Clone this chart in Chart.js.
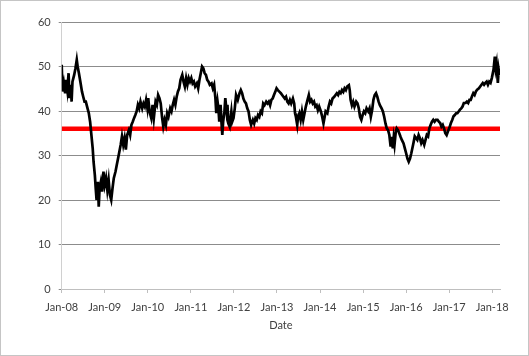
<!DOCTYPE html>
<html>
<head>
<meta charset="utf-8">
<script src="https://cdn.jsdelivr.net/npm/chart.js@4"></script>
<style>
html,body{margin:0;padding:0;background:#fff;}
#wrap{width:529px;height:356px;position:relative;}
</style>
</head>
<body>
<div id="wrap"><canvas id="c" width="529" height="356"></canvas></div>
<script>
// Dates as decimal years (2008.0 = Jan-08)
const dates2008_09 = [2008.00,2008.02,2008.05,2008.08,2008.10,2008.13,2008.16,2008.18,2008.21,2008.23,2008.25,2008.29,2008.32,2008.35,2008.37,2008.40,2008.44,2008.47,2008.50,2008.53,2008.56,2008.60,2008.63,2008.66,2008.69,2008.72,2008.74,2008.77,2008.79,2008.81,2008.84,2008.86,2008.88,2008.91,2008.94,2008.97,2009.00,2009.03,2009.06,2009.09,2009.12,2009.15,2009.18,2009.21,2009.25,2009.28,2009.31,2009.34,2009.37,2009.40,2009.43,2009.46,2009.49,2009.52,2009.56,2009.59,2009.62,2009.65,2009.68,2009.71,2009.74,2009.77,2009.80,2009.83,2009.87,2009.90,2009.93,2009.96,2009.99];
const values2008_09 = [50.4,44.4,46.2,44,47,44.7,48.5,42.9,45.9,42.1,46.6,48.1,49.6,51.5,50,48.5,46.2,44.4,43.2,42.1,42.1,40.6,39.5,37.6,34.6,31.6,28.6,25.6,22.6,20,24.1,18.5,22.6,24.1,21.9,26.4,23.4,24.9,22.2,24.5,21.1,20,22.6,24.9,26.4,27.9,29.4,30.9,32.4,34.3,32.4,33.9,31.3,34.6,35.7,34.6,36.9,37.6,38.4,39.1,39.9,41.4,40.6,42.1,40.6,41.7,41,42.5,40.6];

const dates2010_11 = [2010.01,2010.04,2010.08,2010.11,2010.14,2010.18,2010.21,2010.24,2010.27,2010.30,2010.33,2010.36,2010.39,2010.42,2010.45,2010.48,2010.52,2010.55,2010.58,2010.61,2010.64,2010.67,2010.70,2010.73,2010.76,2010.80,2010.83,2010.86,2010.89,2010.92,2010.95,2010.98,2011.01,2011.04,2011.07,2011.10,2011.14,2011.17,2011.20,2011.23,2011.26,2011.29,2011.32,2011.35,2011.38,2011.41,2011.44,2011.48,2011.51,2011.54,2011.57,2011.59,2011.62,2011.64,2011.66,2011.69,2011.71,2011.73,2011.75,2011.78,2011.80,2011.83,2011.85,2011.87,2011.90,2011.92,2011.94,2011.96,2011.99,2012.02];
const values2010_11 = [42.9,39.9,38.4,41.4,38.4,42.1,41.4,43.6,42.9,41.7,38.7,36.5,38,36.9,39.5,38.7,40.6,39.9,41.4,42.5,41.4,43.2,44.4,45.1,47,48.1,46.6,45.5,47.4,45.9,47.4,46.6,47.4,46.2,46.6,45.5,46.2,45.1,47,48.5,50,49.6,48.5,48.1,47,46.6,45.9,46.2,45.1,45.9,42.9,39.5,42.1,40.6,37.6,41.4,37.6,34.6,37.6,39.9,42.9,39.9,41.4,37.2,36.5,38.4,39.9,37.6,38.4,40.6];

const dates2012_13 = [2012.05,2012.09,2012.13,2012.16,2012.19,2012.22,2012.25,2012.28,2012.31,2012.34,2012.37,2012.40,2012.44,2012.47,2012.50,2012.53,2012.56,2012.59,2012.62,2012.65,2012.68,2012.71,2012.75,2012.78,2012.81,2012.84,2012.87,2012.90,2012.93,2012.96,2012.99,2013.02,2013.06,2013.09,2013.12,2013.15,2013.18,2013.21,2013.24,2013.27,2013.30,2013.33,2013.37,2013.40,2013.42,2013.44,2013.47,2013.49,2013.52,2013.55,2013.58,2013.61,2013.64,2013.67,2013.71,2013.74,2013.77,2013.80,2013.83,2013.86,2013.89,2013.92,2013.95,2013.98,2014.02,2014.05,2014.08];
const values2012_13 = [43.6,42.5,44,44.7,44,42.8,42.1,41.7,40.6,39.9,38,36.9,38,37.2,38.4,38,39.1,38.7,39.9,39.5,41.7,41.3,42.1,41.7,42.1,41.3,42.5,42.8,43.6,44.3,45.1,44.7,44.3,44,43.6,43.2,42.8,43.2,42.1,41.7,42.5,41.7,42.8,41.7,39.5,38.7,36.9,38.7,39.5,38,39.9,38,39.5,41,42.5,43.6,42.1,42.5,41.7,42.1,41,41.3,40.2,41,39.9,38.7,37.2];

const dates2014_15 = [2014.13,2014.17,2014.20,2014.23,2014.26,2014.29,2014.33,2014.36,2014.39,2014.42,2014.45,2014.48,2014.51,2014.54,2014.57,2014.60,2014.63,2014.67,2014.69,2014.71,2014.74,2014.77,2014.80,2014.84,2014.87,2014.90,2014.93,2014.96,2014.99,2015.02,2015.05,2015.08,2015.12,2015.15,2015.18,2015.21,2015.24,2015.27,2015.30,2015.33,2015.36,2015.39,2015.43,2015.46,2015.49,2015.52,2015.55,2015.58,2015.61,2015.64,2015.66,2015.69,2015.71,2015.73,2015.76,2015.78,2015.81,2015.84,2015.87,2015.90,2015.94,2015.97,2016.00,2016.03,2016.06,2016.09,2016.12];
const values2014_15 = [39.9,39.5,41,42.1,41.7,42.8,43.2,43.6,44,43.6,44.3,44,44.7,44.3,45.1,44.7,45.5,45.8,44.7,42.5,41.3,42.1,41,42.1,41.7,40.6,38.7,38,39.1,39.9,39.5,40.6,39.9,40.6,38.7,40.2,42.5,43.6,44,43.2,42.1,41.3,40.6,39.9,38.7,37.2,36.1,35.7,34.6,32,34.2,31.6,33.9,32.4,35.4,36.1,35.7,35,34.2,33.5,32.7,31.6,30.5,29.3,28.6,29.3,30.5];

const dates2016_18 = [2016.17,2016.20,2016.23,2016.26,2016.29,2016.32,2016.35,2016.38,2016.42,2016.45,2016.48,2016.51,2016.54,2016.57,2016.60,2016.63,2016.66,2016.69,2016.73,2016.76,2016.79,2016.82,2016.85,2016.88,2016.91,2016.94,2016.97,2017.00,2017.04,2017.07,2017.10,2017.13,2017.16,2017.19,2017.22,2017.25,2017.28,2017.31,2017.34,2017.38,2017.41,2017.44,2017.47,2017.50,2017.53,2017.56,2017.59,2017.62,2017.65,2017.69,2017.72,2017.75,2017.78,2017.81,2017.84,2017.87,2017.90,2017.93,2017.96,2017.99,2018.03,2018.06,2018.08,2018.10,2018.13,2018.15,2018.17];
const values2016_18 = [32.8,34.3,33.9,33.5,34.6,33.9,32.8,33.5,32.4,33.5,34.6,34.3,36.1,36.9,37.6,38,37.6,38,38,37.6,37.3,36.5,36.9,36.1,35,34.6,35.4,36.1,37.3,38,38.8,39.1,39.5,39.5,39.9,40.3,40.6,41,41.8,41.8,42.1,41.8,42.5,42.5,43.3,44,43.6,44.4,44.8,45.1,45.5,45.9,46.3,45.9,46.3,46.6,45.9,46.6,46.3,47.4,49.3,52.2,49.6,50.7,46.3,49.3,48.1];

const referenceLevel = 36;
const tickYears = [2008,2009,2010,2011,2012,2013,2014,2015,2016,2017,2018];
const tickLabels = ['Jan-08','Jan-09','Jan-10','Jan-11','Jan-12','Jan-13','Jan-14','Jan-15','Jan-16','Jan-17','Jan-18'];
const yTicks = [0,10,20,30,40,50,60];
const xMin = 2008.0, xMax = 2018.18;

const allDates = [].concat(dates2008_09, dates2010_11, dates2012_13, dates2014_15, dates2016_18);
const allValues = [].concat(values2008_09, values2010_11, values2012_13, values2014_15, values2016_18);
const mainData = allDates.map((x,i)=>({x:x, y:allValues[i]}));
const refData = [{x:xMin,y:referenceLevel},{x:xMax,y:referenceLevel}];

const borderPlugin = {
  id:'outerBorder',
  afterDraw(chart){
    const ctx = chart.ctx;
    ctx.save();
    ctx.strokeStyle = '#8a8a8a';
    ctx.lineWidth = 1;
    ctx.setLineDash([1,1]);
    ctx.strokeRect(0.5,0.5,chart.width-1,chart.height-1);
    ctx.restore();
  }
};

const font = {family:'Lato, "Open Sans", sans-serif', size:11};

new Chart(document.getElementById('c'), {
  type:'line',
  data:{
    datasets:[
      {data:mainData, borderColor:'#000000', borderWidth:2.7, pointRadius:0, tension:0, order:0, borderJoinStyle:'miter'},
      {data:refData, borderColor:'#ff0000', borderWidth:4.5, pointRadius:0, tension:0, order:1}
    ]
  },
  options:{
    responsive:false,
    animation:false,
    events:[],
    layout:{padding:{left:0,top:22,right:29,bottom:20}},
    plugins:{legend:{display:false},tooltip:{enabled:false}},
    scales:{
      x:{
        type:'linear', min:xMin, max:xMax,
        afterBuildTicks(scale){ scale.ticks = tickYears.map(v=>({value:v})); },
        afterFit(scale){ scale.height = 47; },
        ticks:{
          autoSkip:false, maxRotation:0, padding:8, color:'#404040', font:font,
          callback:(v)=>{ const i = tickYears.indexOf(v); return i>=0 ? tickLabels[i] : ''; }
        },
        grid:{drawOnChartArea:false, drawTicks:true, tickLength:4, color:'#bfbfbf'},
        border:{display:true, color:'#bfbfbf', width:1},
        title:{display:true, text:'Date', color:'#404040', font:font, padding:{top:4,bottom:4}}
      },
      y:{
        min:0, max:60,
        afterBuildTicks(scale){ scale.ticks = yTicks.map(v=>({value:v})); },
        afterFit(scale){ scale.width = 61.7; },
        ticks:{padding:8, color:'#404040', font:font},
        grid:{color:'#8c8c8c', lineWidth:1, drawTicks:true, tickLength:3},
        border:{display:true, color:'#d0d0d0', width:1}
      }
    }
  },
  plugins:[borderPlugin]
});
</script>
</body>
</html>
